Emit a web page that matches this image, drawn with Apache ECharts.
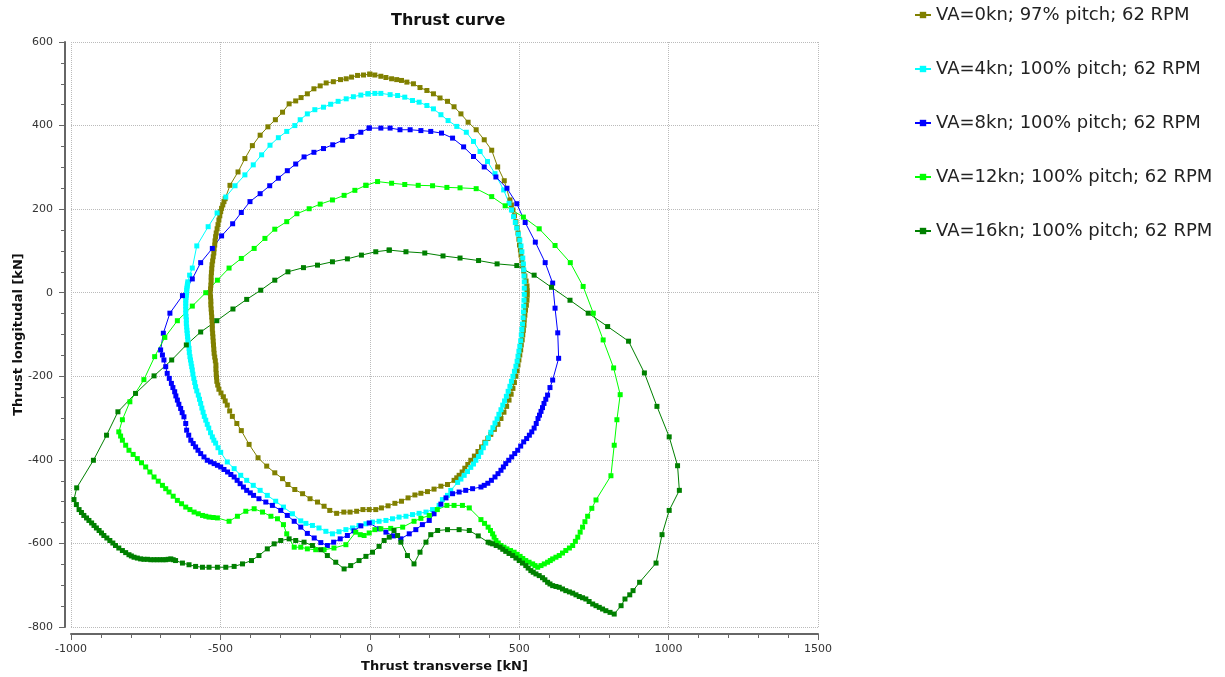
<!DOCTYPE html>
<html>
<head>
<meta charset="utf-8">
<title>Thrust curve</title>
<script src="https://cdn.jsdelivr.net/npm/echarts@6/dist/echarts.min.js"></script>
<style>
  html, body { margin: 0; padding: 0; background: #fff; }
  #chart { width: 1225px; height: 677px; }
</style>
</head>
<body>
<div id="chart"></div>
<script>
// series names (legend order)
var seriesNames = [
  "VA=0kn; 97% pitch; 62 RPM",
  "VA=4kn; 100% pitch; 62 RPM",
  "VA=8kn; 100% pitch; 62 RPM",
  "VA=12kn; 100% pitch; 62 RPM",
  "VA=16kn; 100% pitch; 62 RPM"
];
var seriesColors = ["#808000", "#00ffff", "#0000ff", "#00ff00", "#008000"];

// [transverse kN, longitudinal kN]
var va0 = [
  [0,523],[17,521],[37,518],[54,515],[73,512],[90,510],[106,508],[124,504],[146,500],[168,491],
  [191,484],[213,476],[235,466],[260,458],[282,445],[305,428],[329,408],[356,390],[383,366],[408,341],
  [428,301],[450,268],[469,222],[474,210],[479,198],[484,184],[489,170],[493,156],[496,143],[499,128],
  [501,114],[504,102],[506,90],[509,77],[512,64],[515,52],[519,40],[523,28],[526,16],[527,5],
  [527,-6],[526,-18],[524,-30],[521,-42],[519,-54],[517,-66],[516,-78],[514,-90],[512,-101],[510,-113],
  [507,-125],[505,-137],[502,-149],[499,-161],[496,-173],[493,-187],[489,-200],[484,-215],[479,-229],[473,-243],
  [466,-257],[458,-272],[449,-286],[439,-301],[429,-315],[417,-327],[405,-339],[395,-349],[385,-358],[374,-369],
  [362,-380],[350,-391],[338,-401],[328,-411],[318,-420],[309,-429],[299,-437],[291,-443],[282,-449],
  [260,-459],[238,-463],[215,-470],[193,-476],[171,-480],[151,-484],[128,-491],[106,-499],[84,-504],
  [61,-510],[39,-515],[20,-519],[-2,-519],[-23,-519],[-44,-523],[-66,-525],[-87,-525],[-111,-528],[-134,-521],
  [-153,-511],[-175,-501],[-200,-493],[-225,-481],[-251,-471],[-274,-459],[-292,-445],[-318,-431],[-345,-415],[-374,-395],
  [-404,-363],[-430,-330],[-445,-313],[-460,-296],[-469,-283],[-477,-269],[-484,-259],[-490,-249],[-498,-240],[-505,-231],
  [-509,-221],[-512,-212],[-513,-202],[-514,-193],[-515,-183],[-515,-173],[-517,-163],[-519,-154],[-521,-145],[-522,-135],
  [-523,-125],[-524,-116],[-525,-106],[-526,-97],[-527,-87],[-527,-77],[-528,-67],[-529,-58],[-530,-48],[-531,-39],
  [-532,-29],[-532,-20],[-533,-10],[-534,-1],[-533,9],[-532,18],[-531,28],[-531,38],[-530,48],[-529,57],
  [-528,67],[-526,76],[-524,86],[-522,95],[-521,105],[-519,114],[-518,124],[-516,134],[-514,143],[-511,153],
  [-508,163],[-505,174],[-502,184],[-499,194],[-496,202],[-492,210],[-488,218],[-484,225],
  [-468,257],[-441,289],[-418,321],[-393,352],[-367,377],[-341,397],[-316,414],[-292,432],[-270,452],[-248,459],
  [-230,467],[-209,476],[-187,488],[-166,495],[-146,502],[-122,505],[-98,510],[-79,512],[-61,516],[-41,520],
  [-21,521],[0,523]
];

var va4 = [
  [-6,476],[17,477],[37,477],[68,474],[93,472],[117,468],[143,460],[165,456],[191,448],[213,440],
  [238,426],[262,412],[291,398],[323,384],[347,362],[369,338],[394,314],[419,285],[448,246],
  [466,214],[474,198],[481,182],[487,168],[492,155],[497,140],[502,126],[506,112],[509,98],[512,83],
  [514,69],[515,55],[516,40],[517,26],[517,11],[517,-4],[516,-18],[515,-32],[514,-46],[513,-60],
  [511,-75],[509,-88],[507,-101],[505,-115],[502,-128],[499,-140],[496,-152],[493,-164],[489,-176],[484,-188],
  [479,-200],[474,-212],[469,-224],[463,-236],[457,-248],[451,-259],[445,-269],[439,-280],[432,-291],[426,-302],
  [419,-312],[412,-323],[405,-334],[397,-347],[388,-360],[380,-371],[372,-382],[364,-392],[355,-401],[347,-410],
  [338,-418],[327,-428],[316,-437],[305,-446],[294,-454],
  [271,-473],[260,-485],[243,-495],[232,-509],[210,-519],[188,-525],[165,-528],[143,-531],[121,-535],[98,-537],
  [76,-541],[54,-545],[31,-547],[9,-549],[-13,-553],[-36,-557],[-58,-563],[-80,-567],[-103,-572],[-125,-577],
  [-147,-571],[-170,-563],[-192,-557],[-214,-552],[-231,-546],[-259,-529],[-289,-513],[-315,-499],[-343,-485],[-367,-473],
  [-390,-461],[-412,-449],[-432,-437],[-454,-421],[-477,-405],
  [-499,-382],[-508,-371],[-516,-360],[-522,-353],[-527,-345],[-533,-335],[-539,-324],[-544,-315],[-549,-305],[-554,-296],
  [-558,-286],[-562,-276],[-566,-265],[-570,-255],[-574,-245],[-579,-235],[-583,-225],[-586,-215],[-589,-205],[-592,-195],
  [-594,-185],[-596,-177],[-598,-169],[-600,-161],[-602,-153],[-604,-143],[-605,-133],[-607,-123],[-609,-113],[-610,-105],
  [-611,-97],[-612,-90],[-613,-82],[-614,-74],[-614,-65],[-615,-57],[-616,-49],[-616,-40],[-616,-32],[-616,-25],
  [-616,-18],[-615,-12],[-614,-6],[-613,0],[-613,6],[-612,11],[-611,16],[-610,21],[-609,26],
  [-603,42],[-594,59],[-579,112],
  [-541,158],[-511,191],[-482,229],[-451,256],[-418,282],[-390,306],[-362,330],[-334,353],[-306,371],[-278,386],
  [-251,400],[-233,414],[-209,428],[-184,438],[-155,444],[-131,451],[-106,458],[-79,464],[-55,469],[-30,473],
  [-6,476]
];

var va8 = [
  [-2,394],[37,394],[68,394],[101,390],[135,390],[171,388],[204,386],[240,382],[277,370],[314,349],
  [347,326],[383,301],[422,277],[459,250],[492,213],[520,168],[554,121],[587,72],[612,23],[620,-37],
  [629,-96],[632,-157],
  [612,-209],[603,-227],[595,-245],[589,-255],[583,-265],[578,-275],[573,-284],[568,-293],[563,-301],[557,-313],
  [550,-324],[542,-333],[534,-341],[525,-349],[515,-357],[505,-367],[495,-377],[485,-385],[475,-393],[465,-401],
  [455,-409],[447,-417],[439,-425],[429,-433],[419,-441],[407,-449],[395,-456],[383,-461],[372,-465],
  [344,-469],[321,-473],[299,-477],
  [277,-481],[255,-491],[238,-506],[215,-529],[199,-545],[176,-555],[154,-567],[132,-577],[104,-589],[79,-582],
  [54,-573],[31,-565],[-2,-551],[-30,-558],[-53,-570],[-75,-581],[-99,-589],[-121,-597],[-142,-605],[-164,-598],
  [-186,-587],[-209,-576],[-231,-561],[-253,-547],[-276,-533],[-298,-521],[-326,-509],[-348,-501],[-371,-493],
  [-389,-485],[-400,-479],[-412,-473],[-423,-465],[-434,-457],[-444,-449],[-454,-441],[-465,-435],[-476,-429],[-488,-423],
  [-499,-417],[-510,-413],[-521,-409],[-533,-405],[-544,-401],[-555,-393],[-566,-385],[-575,-377],[-583,-369],[-591,-361],
  [-599,-353],[-606,-341],[-613,-329],[-616,-313],[-622,-297],[-628,-287],[-633,-277],[-639,-267],[-644,-257],[-649,-247],
  [-653,-237],[-659,-227],[-664,-217],[-671,-205],[-678,-193],[-683,-177],[-689,-161],[-694,-149],[-700,-137],
  [-691,-97],
  [-669,-49],[-627,-7],[-594,33],[-566,72],[-527,106],[-496,136],[-459,165],[-430,192],[-401,218],[-367,237],
  [-335,256],[-306,274],[-276,292],[-248,308],[-220,325],[-187,336],[-155,345],[-124,354],[-91,365],[-60,374],
  [-30,384],[-2,394]
];

var va12 = [
  [-13,257],[26,266],[73,262],[117,259],[162,257],[210,256],[258,252],[302,251],[356,249],[408,230],
  [453,208],[514,181],[567,153],[620,113],[671,72],[714,15],[748,-49],[781,-113],[816,-180],[838,-244],
  [827,-304],[818,-365],[807,-438],
  [757,-496],[743,-516],[729,-535],[720,-548],[712,-561],[704,-573],[696,-585],[688,-595],[679,-605],[668,-611],
  [656,-617],[645,-623],[634,-629],[623,-633],[612,-637],[604,-641],[595,-645],[584,-649],[573,-653],[562,-657],
  [553,-653],[545,-649],[533,-645],[522,-641],[512,-636],[503,-631],[493,-626],[483,-621],[471,-617],[459,-613],
  [449,-609],[439,-605],[430,-599],[422,-593],[416,-585],[411,-577],[404,-569],[396,-561],[384,-552],[372,-543],
  [333,-515],[310,-509],[282,-509],[258,-509],[226,-519],[199,-533],
  [171,-540],[148,-547],[110,-561],[70,-564],[37,-565],[17,-567],[-2,-575],[-19,-581],[-32,-579],[-47,-573],
  [-80,-603],[-120,-611],[-153,-615],[-181,-615],[-209,-613],[-231,-609],[-253,-609],[-278,-577],[-289,-555],[-309,-541],
  [-331,-535],[-359,-525],[-387,-517],[-415,-523],[-443,-535],[-471,-547],
  [-510,-539],[-524,-538],[-538,-537],[-549,-535],[-560,-533],[-574,-529],[-588,-525],[-602,-519],[-616,-513],[-630,-505],
  [-644,-497],[-658,-487],[-672,-477],[-683,-469],[-694,-461],[-708,-451],[-722,-441],[-736,-429],[-750,-417],[-764,-407],
  [-778,-397],[-792,-387],[-806,-377],[-817,-365],[-828,-353],[-834,-343],[-840,-333],
  [-828,-304],[-803,-261],[-756,-208],[-720,-153],[-686,-107],[-644,-67],[-594,-32],[-549,0],[-510,30],[-471,59],
  [-430,82],[-387,106],[-351,130],[-318,152],[-278,170],[-244,189],[-203,201],[-166,212],[-125,222],[-86,233],
  [-50,245],[-13,257]
];

var va16 = [
  [65,102],[121,98],[184,95],[245,88],[302,83],[364,77],[426,69],[492,65],[550,42],[608,13],
  [670,-18],[731,-49],[796,-81],[866,-116],[919,-192],[961,-272],[1002,-345],[1030,-414],[1036,-473],[1002,-521],
  [978,-579],[958,-647],[903,-693],[881,-713],[870,-723],[854,-733],[841,-749],
  [818,-769],[804,-765],[790,-761],[779,-757],[768,-753],[757,-749],[746,-745],[734,-739],[723,-733],[712,-730],
  [701,-727],[690,-723],[679,-719],[668,-716],[656,-713],[645,-709],[634,-705],[623,-703],[612,-701],[603,-697],
  [595,-693],[586,-687],[578,-682],[567,-677],[556,-673],[547,-669],[539,-665],[530,-659],[522,-653],[511,-647],
  [500,-641],[489,-635],[478,-629],[466,-624],[455,-619],[445,-614],[436,-609],[423,-605],[411,-601],[403,-599],
  [396,-597],[363,-582],[333,-569],
  [299,-567],[260,-567],[227,-569],[204,-579],[188,-597],[168,-621],[148,-649],[126,-629],[104,-597],[93,-581],
  [81,-569],[65,-585],[48,-593],[31,-607],[9,-621],[-13,-631],[-36,-641],[-64,-653],[-86,-661],[-114,-645],
  [-142,-629],[-164,-615],[-192,-605],[-220,-597],[-248,-593],[-270,-589],[-298,-593],[-320,-601],[-343,-613],[-371,-629],
  [-396,-641],[-426,-649],[-454,-655],[-482,-657],[-510,-657],[-538,-657],[-560,-657],[-583,-655],[-605,-651],[-627,-647],
  [-650,-641],[-658,-639],[-666,-637],[-675,-638],[-683,-639],[-692,-639],[-702,-639],[-712,-639],[-722,-639],[-733,-639],
  [-744,-638],[-756,-638],[-767,-637],[-778,-635],[-789,-633],[-798,-630],[-806,-627],[-817,-622],[-828,-617],[-840,-611],
  [-851,-605],[-860,-599],[-870,-593],[-880,-587],[-890,-581],[-898,-575],[-906,-569],[-915,-563],[-923,-557],[-931,-551],
  [-940,-545],[-948,-539],[-957,-533],[-965,-526],[-973,-519],[-982,-507],[-990,-495],
  [-981,-467],[-925,-401],[-881,-341],[-843,-285],[-784,-241],[-722,-199],[-663,-161],[-614,-125],[-566,-94],[-512,-67],
  [-458,-39],[-412,-16],[-365,6],[-318,30],[-274,50],[-222,60],[-175,66],[-125,74],[-75,81],[-28,90],
  [20,98],[65,102]
];

var seriesData = [va0, va4, va8, va12, va16];

// axis ticks
var xMin = -1000, xMax = 1500, xStep = 500;
var yMin = -800, yMax = 600, yStep = 200;

var FONT = "DejaVu Sans";

var chart = echarts.init(document.getElementById("chart"));

function plain(v) { return String(v); }

var option = {
  animation: false,
  backgroundColor: "#fff",
  title: {
    text: "Thrust curve",
    left: 391,
    top: 13,
    padding: 0,
    textStyle: { fontFamily: FONT, fontSize: 16, fontWeight: "bold", color: "#111" }
  },
  legend: {
    orient: "vertical",
    left: 909,
    top: 0,
    itemWidth: 16,
    itemHeight: 8,
    itemGap: 34,
    data: seriesNames,
    textStyle: { fontFamily: FONT, fontSize: 18, color: "#222", lineHeight: 20 }
  },
  grid: { left: 71, top: 42, width: 747, height: 585, outerBoundsMode: "none", containLabel: false },
  xAxis: {
    type: "value",
    min: xMin,
    max: xMax,
    interval: xStep,
    offset: 7,
    name: "Thrust transverse [kN]",
    nameLocation: "middle",
    nameGap: 26,
    nameMoveOverlap: false,
    nameTextStyle: { fontFamily: FONT, fontSize: 13, fontWeight: "bold", color: "#111" },
    axisLine: { show: true, onZero: false, lineStyle: { color: "#666", width: 2 } },
    axisTick: { show: true, length: 6, lineStyle: { color: "#666" } },
    minorTick: { show: true, splitNumber: 5, length: 4, lineStyle: { color: "#666" } },
    axisLabel: { fontFamily: FONT, fontSize: 11, color: "#333", margin: 10, formatter: plain },
    splitLine: { show: true, lineStyle: { color: "#bbb", type: "dotted", width: 1 } }
  },
  yAxis: {
    type: "value",
    min: yMin,
    max: yMax,
    interval: yStep,
    offset: 6,
    name: "Thrust longitudal [kN]",
    nameLocation: "middle",
    nameGap: 40,
    nameMoveOverlap: false,
    nameTextStyle: { fontFamily: FONT, fontSize: 13, fontWeight: "bold", color: "#111" },
    axisLine: { show: true, onZero: false, lineStyle: { color: "#666", width: 2 } },
    axisTick: { show: true, length: 6, lineStyle: { color: "#666" } },
    minorTick: { show: true, splitNumber: 4, length: 4, lineStyle: { color: "#666" } },
    axisLabel: { fontFamily: FONT, fontSize: 11, color: "#333", margin: 12, formatter: plain },
    splitLine: { show: true, lineStyle: { color: "#bbb", type: "dotted", width: 1 } }
  },
  series: seriesNames.map(function (name, i) {
    return {
      name: name,
      type: "line",
      data: seriesData[i],
      symbol: "rect",
      symbolSize: 5,
      showAllSymbol: true,
      color: seriesColors[i],
      lineStyle: { width: 1, color: seriesColors[i] },
      itemStyle: { color: seriesColors[i] },
      emphasis: { disabled: true }
    };
  })
};

chart.setOption(option);
</script>
</body>
</html>
